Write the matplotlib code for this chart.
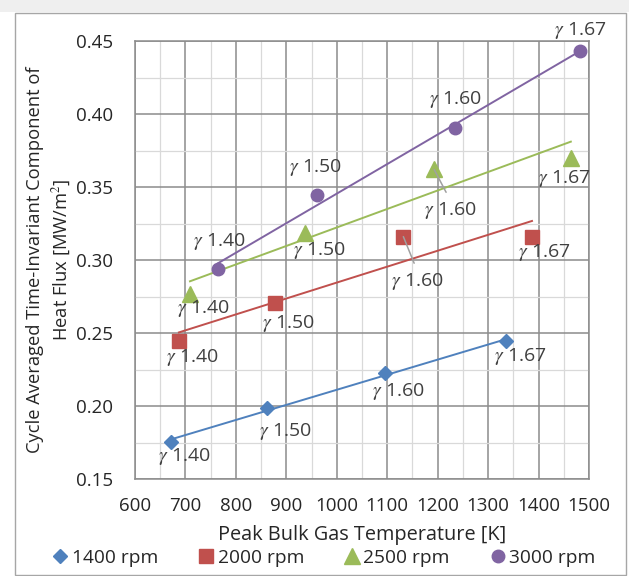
import matplotlib
matplotlib.use("Agg")
import matplotlib.pyplot as plt
import numpy as np
from matplotlib.patches import Rectangle
from matplotlib.ticker import MultipleLocator, FormatStrFormatter

plt.rcParams['font.family'] = ['Open Sans', 'DejaVu Sans']
plt.rcParams['mathtext.fontset'] = 'stix'

series_names = ["1400 rpm", "2000 rpm", "2500 rpm", "3000 rpm"]
gamma_labels = ["1.40", "1.50", "1.60", "1.67"]

temp_1400 = [671, 862, 1096, 1336]
flux_1400 = [0.1755, 0.1984, 0.2224, 0.2445]
temp_2000 = [687, 878, 1132, 1387]
flux_2000 = [0.2445, 0.2708, 0.3160, 0.3160]
temp_2500 = [709, 937, 1193, 1464]
flux_2500 = [0.2770, 0.3185, 0.3620, 0.3700]
temp_3000 = [765, 961, 1235, 1483]
flux_3000 = [0.2937, 0.3445, 0.3905, 0.4430]

colors = ["#4F81BD", "#C0504D", "#9BBB59", "#8064A2"]
markers = ["D", "s", "^", "o"]
msizes = [7.5, 10, 11, 9]

# label offsets in pixels (dx, dy up positive)
offsets = [
    [(14, -15), (18, -23), (13, -18), (14, -15)],
    [(13, -16), (13, -21), (14, -45), (12, -16)],
    [(13, -15), (14, -18), (16, -41), (-7, -21)],
    [(1, 28), (-2, 28), (0, 28), (0, 21)],
]
leaders = [[False]*4, [False, False, True, False], [False, False, True, False], [False]*4]

W, H = 629, 576
fig = plt.figure(figsize=(W/100, H/100), dpi=100)
fig.patch.set_facecolor("#ffffff")
fig.add_artist(Rectangle((0, 1-12/576), 1, 12/576, transform=fig.transFigure,
                         facecolor="#efefef", edgecolor="none", zorder=0))
fig.add_artist(Rectangle((15/W, 1/H), (626-15)/W, (575-13)/H, transform=fig.transFigure,
                         facecolor="none", edgecolor="#a6a6a6", lw=1.0, zorder=0))

ax = fig.add_axes([135/W, 1-479/H, (589-135)/W, (479-41)/H])
ax.set_xlim(600, 1500)
ax.set_ylim(0.15, 0.45)
ax.xaxis.set_major_locator(MultipleLocator(100))
ax.xaxis.set_minor_locator(MultipleLocator(50))
ax.yaxis.set_major_locator(MultipleLocator(0.05))
ax.yaxis.set_minor_locator(MultipleLocator(0.025))
ax.grid(which="major", color="#8c8c8c", lw=1.1, zorder=0)
ax.grid(which="minor", color="#d9d9d9", lw=0.9, zorder=0)
ax.set_axisbelow(True)
for s in ax.spines.values():
    s.set_color("#8c8c8c")
    s.set_linewidth(1.1)
ax.tick_params(which="both", length=0, labelsize=13.5, colors="#262626")
ax.tick_params(axis="y", pad=16)
ax.tick_params(axis="x", pad=13)
ax.yaxis.set_major_formatter(FormatStrFormatter("%.2f"))

all_t = [temp_1400, temp_2000, temp_2500, temp_3000]
all_f = [flux_1400, flux_2000, flux_2500, flux_3000]

handles = []
for i in range(4):
    t = np.array(all_t[i]); f = np.array(all_f[i])
    k, b = np.polyfit(t, f, 1)
    xs = np.array([t.min(), t.max()])
    ax.plot(xs, k*xs + b, color=colors[i], lw=1.4, zorder=3)
    h, = ax.plot(t, f, linestyle="none", marker=markers[i], ms=msizes[i],
                 color=colors[i], mec=colors[i], zorder=4, clip_on=False, label=series_names[i])
    handles.append(h)
    for j in range(4):
        dx, dy = offsets[i][j]
        txt = r"$\gamma$ " + gamma_labels[j]
        kw = dict(textcoords="offset points", ha="center", va="center",
                  fontsize=14, color="#404040", zorder=5, annotation_clip=False)
        if leaders[i][j]:
            kw["arrowprops"] = dict(arrowstyle="-", color="#a0a0a0", lw=1.1,
                                    shrinkA=4, shrinkB=0, relpos=(0.5, 1.0))
        ax.annotate(txt, xy=(t[j], f[j]), xytext=(dx*0.72, dy*0.72), **kw)

ax.set_xlabel("Peak Bulk Gas Temperature [K]", fontsize=14.3, color="#262626", labelpad=7)
ax.set_ylabel("Cycle Averaged Time-Invariant Component of\nHeat Flux [MW/m$^2$]",
              fontsize=13.2, color="#262626", labelpad=2, linespacing=1.4)

fig.legend(handles=handles, loc="center", bbox_to_anchor=(324/W, 1-558/H), ncol=4,
           frameon=False, fontsize=13.8, handlelength=0.8, handletextpad=0.2,
           columnspacing=2.1, labelcolor="#262626")

fig.savefig("out.png", dpi=100)
